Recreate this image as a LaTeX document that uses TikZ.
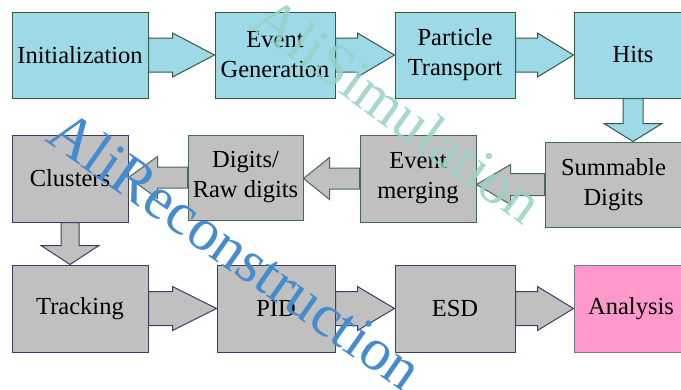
\documentclass[tikz,border=0pt]{standalone}
\usepackage{fontspec}
\setmainfont{Liberation Serif}
\usetikzlibrary{calc,backgrounds}

\definecolor{simblue}{RGB}{158,217,232}
\definecolor{simedge}{RGB}{50,90,70}
\definecolor{digedge}{RGB}{70,105,85}
\definecolor{recedge}{RGB}{60,60,100}
\definecolor{boxgrey}{RGB}{192,192,192}
\definecolor{anapink}{RGB}{255,153,204}
\definecolor{simtext}{RGB}{150,210,198}
\definecolor{rectext}{RGB}{70,140,205}

\tikzset{
  box/.style={draw, line width=1pt, minimum height=86pt, align=center,
    inner sep=2pt, font=\fontsize{24.5}{30}\selectfont},
  simbox/.style={box, fill=simblue, draw=simedge},
  digbox/.style={box, fill=boxgrey, draw=digedge},
  recbox/.style={box, fill=boxgrey, draw=recedge},
  anabox/.style={box, fill=anapink, draw=recedge!70},
  simarrow/.style={fill=simblue, draw=simedge, line width=1pt},
  digarrow/.style={fill=boxgrey, draw=digedge, line width=1pt},
  recarrow/.style={fill=boxgrey, draw=recedge, line width=1pt},
  watermark/.style={font=\fontsize{60}{60}\selectfont, inner sep=0pt}
}

% block arrow: style, start, tip, shaft length, shaft half width, head half width
\newcommand{\flowarrow}[6]{%
  \begin{pgfonlayer}{background}
    \coordinate (fs) at (#2);
    \coordinate (ft) at (#3);
    \coordinate (fb) at ($(fs)!#4!(ft)$);
    \filldraw[#1] ($(fs)!#5!90:(ft)$) -- ($(fb)!#5!90:(ft)$) -- ($(fb)!#6!90:(ft)$) -- (ft)
      -- ($(fb)!#6!-90:(ft)$) -- ($(fb)!#5!-90:(ft)$) -- ($(fs)!#5!-90:(ft)$) -- cycle;
  \end{pgfonlayer}}

\begin{document}
\begin{tikzpicture}[x=1pt, y=-1pt]
    \useasboundingbox (0,0) rectangle (681,389);
    \clip (0,0) rectangle (681,389);
    % simulation row
    \node[simbox, minimum width=136pt] (init) at (80,55) {Initialization};
    \node[simbox, minimum width=120pt] (evgen) at (275,55) {Event\\Generation};
    \node[simbox, minimum width=120pt] (ptrans) at (455,55) {Particle\\Transport};
    \node[simbox, minimum width=118pt] (hits) at (633,55) {Hits};
    % digits row
    \node[digbox, minimum width=137pt, minimum height=85pt] (summ) at (613.5,184.5) {Summable\\Digits};
    \node[digbox, minimum width=116pt, minimum height=87pt] (merge) at (418,178.5) {Event\\merging};
    \node[digbox, minimum width=115pt, minimum height=85pt] (digits) at (245.5,177.5) {Digits/\\Raw digits};
    \node[recbox, minimum width=116pt, minimum height=87pt] (clusters) at (70,178.5) {Clusters};
    % reconstruction row
    \node[recbox, minimum width=136pt, minimum height=87pt] (tracking) at (80,308.5) {Tracking};
    \node[recbox, minimum width=118pt, minimum height=87pt] (pid) at (276,308.5) {PID};
    \node[recbox, minimum width=120pt, minimum height=87pt] (esd) at (455,308.5) {ESD};
    \node[anabox, minimum width=114pt, minimum height=87pt] (ana) at (631,308.5) {Analysis};
    % flow
    \flowarrow{simarrow}{init.east}{evgen.west}{24pt}{17pt}{22pt}
    \flowarrow{simarrow}{evgen.east}{ptrans.west}{22pt}{17pt}{22pt}
    \flowarrow{simarrow}{ptrans.east}{hits.west}{22pt}{17pt}{22pt}
    \flowarrow{simarrow}{hits.south}{hits.south |- summ.north}{25pt}{10pt}{29pt}
    \flowarrow{digarrow}{summ.west}{summ.west -| merge.east}{34pt}{11pt}{20pt}
    \flowarrow{digarrow}{merge.west}{merge.west -| digits.east}{30pt}{10.5pt}{21pt}
    \flowarrow{digarrow}{digits.west}{digits.west -| clusters.east}{30pt}{10.5pt}{21pt}
    \flowarrow{recarrow}{clusters.south}{clusters.south |- tracking.north}{23pt}{9pt}{29pt}
    \flowarrow{recarrow}{tracking.east}{pid.west}{24pt}{17pt}{22pt}
    \flowarrow{recarrow}{pid.east}{esd.west}{22pt}{17pt}{22pt}
    \flowarrow{recarrow}{esd.east}{ana.west}{22pt}{17pt}{22pt}
    % watermarks
    \node[watermark, text=simtext, opacity=0.85, rotate=-36] (simmark) at (398,110) {AliSimulation};
    \node[watermark, text=rectext, rotate=-35] (recmark) at (236,250) {AliReconstruction};
\end{tikzpicture}
\end{document}
